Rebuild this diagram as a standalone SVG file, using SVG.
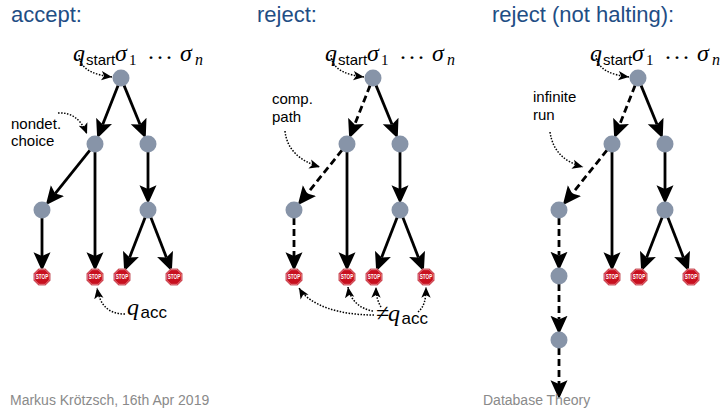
<svg xmlns="http://www.w3.org/2000/svg" xmlns:xlink="http://www.w3.org/1999/xlink" width="724" height="410" viewBox="0 0 724 410">
<style>
.title{font-family:"Liberation Sans",Arial,sans-serif;font-size:22px;fill:#1f4e85}
.lbl{font-family:"Liberation Sans",Arial,sans-serif;font-size:15px;fill:#000}
.foot{font-family:"Liberation Sans",Arial,sans-serif;font-size:14px;fill:#8a8a8a}
.mi{font-family:"Liberation Serif","Times New Roman",serif;font-style:italic;font-size:24px;fill:#000}
.mis{font-family:"Liberation Serif","Times New Roman",serif;font-style:italic;font-size:16px;fill:#000}
.num{font-family:"Liberation Serif","Times New Roman",serif;font-size:15px;fill:#000}
.sub{font-family:"Liberation Sans",Arial,sans-serif;font-size:15px;fill:#000}
.subacc{font-family:"Liberation Sans",Arial,sans-serif;font-size:17px;fill:#000}
.dots{font-family:"Liberation Serif","Times New Roman",serif;font-size:24px;fill:#000}
.node{fill:#8794a8}
.e{stroke:#000;stroke-width:2.8;fill:none;marker-end:url(#ah)}
.d{stroke-dasharray:7 4}
.an{stroke:#000;stroke-width:1.5;stroke-dasharray:1.5 1.5;fill:none;marker-end:url(#sa)}
.stoptxt{font-family:"Liberation Sans",Arial,sans-serif;font-weight:bold;font-size:6.5px;fill:#fff}
</style>
<defs>
<marker id="ah" markerUnits="userSpaceOnUse" markerWidth="20" markerHeight="20" viewBox="0 -7 16 14" refX="3" refY="0" orient="auto">
<path d="M0,-6.8 L15,0 L0,6.8 L3,0 z" fill="#000"/>
</marker>
<marker id="sa" markerUnits="userSpaceOnUse" markerWidth="12" markerHeight="12" viewBox="0 -4 9 8" refX="8" refY="0" orient="auto">
<path d="M0,-3.5 L8,0 L0,3.5 L2,0 z" fill="#000"/>
</marker>
<g id="stop">
<polygon points="8.31,-3.44 8.31,3.44 3.44,8.31 -3.44,8.31 -8.31,3.44 -8.31,-3.44 -3.44,-8.31 3.44,-8.31" fill="#c8101f" stroke="#d9a0a5" stroke-width="0.7"/>
<polygon points="7.3,-3.02 7.3,3.02 3.02,7.3 -3.02,7.3 -7.3,3.02 -7.3,-3.02 -3.02,-7.3 3.02,-7.3" fill="none" stroke="#ffffff" stroke-width="0.5" opacity="0.8"/>
<text class="stoptxt" x="0" y="2.3" text-anchor="middle" textLength="12.5" lengthAdjust="spacingAndGlyphs">STOP</text>
</g>
</defs>
<rect width="724" height="410" fill="#fff"/>

<g id="titles">
<text class="title" x="11" y="22">accept:</text>
<text class="title" x="257" y="22">reject:</text>
<text class="title" x="492" y="22">reject (not halting):</text>
</g>

<g id="connectors">
<!-- tree 1 -->
<line class="e" x1="118.07" y1="85.44" x2="102.70" y2="124.46"/>
<line class="e" x1="124.03" y1="85.40" x2="140.05" y2="124.56"/>
<line class="e" x1="89.99" y1="150.24" x2="55.15" y2="193.62"/>
<line class="e" x1="95" y1="152" x2="95" y2="256"/>
<line class="e" x1="42" y1="218" x2="42" y2="256"/>
<line class="e" x1="148" y1="152" x2="148" y2="189"/>
<line class="e" x1="145.11" y1="217.46" x2="129.60" y2="257.42"/>
<line class="e" x1="150.89" y1="217.46" x2="166.40" y2="257.42"/>
<!-- tree 2 -->
<line class="e d" x1="370.07" y1="85.44" x2="354.70" y2="124.46"/>
<line class="e" x1="376.03" y1="85.40" x2="392.05" y2="124.56"/>
<line class="e d" x1="341.99" y1="150.24" x2="307.15" y2="193.62"/>
<line class="e" x1="347" y1="152" x2="347" y2="256"/>
<line class="e d" x1="294" y1="218" x2="294" y2="256"/>
<line class="e" x1="400" y1="152" x2="400" y2="189"/>
<line class="e" x1="397.11" y1="217.46" x2="381.60" y2="257.42"/>
<line class="e" x1="402.89" y1="217.46" x2="418.40" y2="257.42"/>
<!-- tree 3 -->
<line class="e d" x1="635.07" y1="85.44" x2="619.70" y2="124.46"/>
<line class="e" x1="641.03" y1="85.40" x2="657.05" y2="124.56"/>
<line class="e d" x1="606.99" y1="150.24" x2="572.15" y2="193.62"/>
<line class="e" x1="612" y1="152" x2="612" y2="256"/>
<line class="e d" x1="559" y1="218" x2="559" y2="255.5"/>
<line class="e d" x1="559" y1="284" x2="559" y2="319.5"/>
<line class="e d" x1="559" y1="348" x2="559" y2="384"/>
<line class="e" x1="665" y1="152" x2="665" y2="189"/>
<line class="e" x1="662.11" y1="217.46" x2="646.60" y2="257.42"/>
<line class="e" x1="667.89" y1="217.46" x2="683.40" y2="257.42"/>
</g>

<g id="annotations">
<path class="an" d="M79,55 C80,70 95,75 112,77"/>
<path class="an" d="M58,113 C71,112 81,119 87,134"/>
<path class="an" d="M125,314 C108,314 100,305 97,288"/>
<path class="an" d="M331,55 C332,70 347,75 364,77"/>
<path class="an" d="M285,131 C287,150 300,161 320,167"/>
<path class="an" d="M374,315 C340,315 310,306 299,288"/>
<path class="an" d="M373,311 C360,309 350,300 348,287"/>
<path class="an" d="M381,307 C378,302 376,296 376,287"/>
<path class="an" d="M418,312 C424,307 426,300 426,287"/>
<path class="an" d="M596,55 C597,70 612,75 629,77"/>
<path class="an" d="M550,132 C553,152 565,162 583,167"/>
</g>

<!-- tree 1 nodes -->
<g id="t1-root"><circle class="node" cx="121" cy="78" r="8.5"/></g>
<g id="t1-a"><circle class="node" cx="95" cy="144" r="8.5"/></g>
<g id="t1-b"><circle class="node" cx="148" cy="144" r="8.5"/></g>
<g id="t1-c"><circle class="node" cx="42" cy="210" r="8.5"/></g>
<g id="t1-d"><circle class="node" cx="148" cy="210" r="8.5"/></g>
<g id="t1-s1"><use xlink:href="#stop" href="#stop" x="42" y="277"/></g>
<g id="t1-s2"><use xlink:href="#stop" href="#stop" x="95" y="277"/></g>
<g id="t1-s3"><use xlink:href="#stop" href="#stop" x="122" y="277"/></g>
<g id="t1-s4"><use xlink:href="#stop" href="#stop" x="174" y="277"/></g>

<!-- tree 2 nodes -->
<g id="t2-root"><circle class="node" cx="373" cy="78" r="8.5"/></g>
<g id="t2-a"><circle class="node" cx="347" cy="144" r="8.5"/></g>
<g id="t2-b"><circle class="node" cx="400" cy="144" r="8.5"/></g>
<g id="t2-c"><circle class="node" cx="294" cy="210" r="8.5"/></g>
<g id="t2-d"><circle class="node" cx="400" cy="210" r="8.5"/></g>
<g id="t2-s1"><use xlink:href="#stop" href="#stop" x="294" y="277"/></g>
<g id="t2-s2"><use xlink:href="#stop" href="#stop" x="347" y="277"/></g>
<g id="t2-s3"><use xlink:href="#stop" href="#stop" x="374" y="277"/></g>
<g id="t2-s4"><use xlink:href="#stop" href="#stop" x="426" y="277"/></g>

<!-- tree 3 nodes -->
<g id="t3-root"><circle class="node" cx="638" cy="78" r="8.5"/></g>
<g id="t3-a"><circle class="node" cx="612" cy="144" r="8.5"/></g>
<g id="t3-b"><circle class="node" cx="665" cy="144" r="8.5"/></g>
<g id="t3-c"><circle class="node" cx="559" cy="210" r="8.5"/></g>
<g id="t3-d"><circle class="node" cx="665" cy="210" r="8.5"/></g>
<g id="t3-e"><circle class="node" cx="559" cy="276" r="8.5"/></g>
<g id="t3-f"><circle class="node" cx="559" cy="340" r="8.5"/></g>
<g id="t3-s2"><use xlink:href="#stop" href="#stop" x="612" y="277"/></g>
<g id="t3-s3"><use xlink:href="#stop" href="#stop" x="639" y="277"/></g>
<g id="t3-s4"><use xlink:href="#stop" href="#stop" x="691" y="277"/></g>

<!-- labels -->
<g id="t1-start-label">
<text class="mi" x="73" y="61">q</text>
<text class="sub" x="86" y="65">start</text>
<text class="mi" x="115" y="61">σ</text>
<text class="num" x="129" y="65">1</text>
<text class="dots" x="147" y="65" textLength="26" lengthAdjust="spacing">···</text>
<text class="mi" x="180" y="61">σ</text>
<text class="mis" x="195" y="65">n</text>
</g>
<g id="t2-start-label">
<text class="mi" x="325" y="61">q</text>
<text class="sub" x="338" y="65">start</text>
<text class="mi" x="367" y="61">σ</text>
<text class="num" x="381" y="65">1</text>
<text class="dots" x="399" y="65" textLength="26" lengthAdjust="spacing">···</text>
<text class="mi" x="432" y="61">σ</text>
<text class="mis" x="447" y="65">n</text>
</g>
<g id="t3-start-label">
<text class="mi" x="590" y="61">q</text>
<text class="sub" x="603" y="65">start</text>
<text class="mi" x="632" y="61">σ</text>
<text class="num" x="646" y="65">1</text>
<text class="dots" x="664" y="65" textLength="26" lengthAdjust="spacing">···</text>
<text class="mi" x="697" y="61">σ</text>
<text class="mis" x="712" y="65">n</text>
</g>
<g id="t1-nondet">
<text class="lbl" x="11" y="129">nondet.</text>
<text class="lbl" x="11" y="146">choice</text>
</g>
<g id="t1-qacc">
<text class="mi" x="127" y="315">q</text>
<text class="subacc" x="140.5" y="318">acc</text>
</g>
<g id="t2-comp">
<text class="lbl" x="272" y="104">comp.</text>
<text class="lbl" x="272" y="122">path</text>
</g>
<g id="t2-notqacc">
<text class="mi" x="376" y="321">≠</text>
<text class="mi" x="388" y="321">q</text>
<text class="subacc" x="401.5" y="324">acc</text>
</g>
<g id="t3-infinite">
<text class="lbl" x="533" y="102">infinite</text>
<text class="lbl" x="533" y="120">run</text>
</g>

<g id="footer">
<text class="foot" x="10" y="405">Markus Krötzsch, 16th Apr 2019</text>
<text class="foot" x="483" y="405">Database Theory</text>
</g>
</svg>
